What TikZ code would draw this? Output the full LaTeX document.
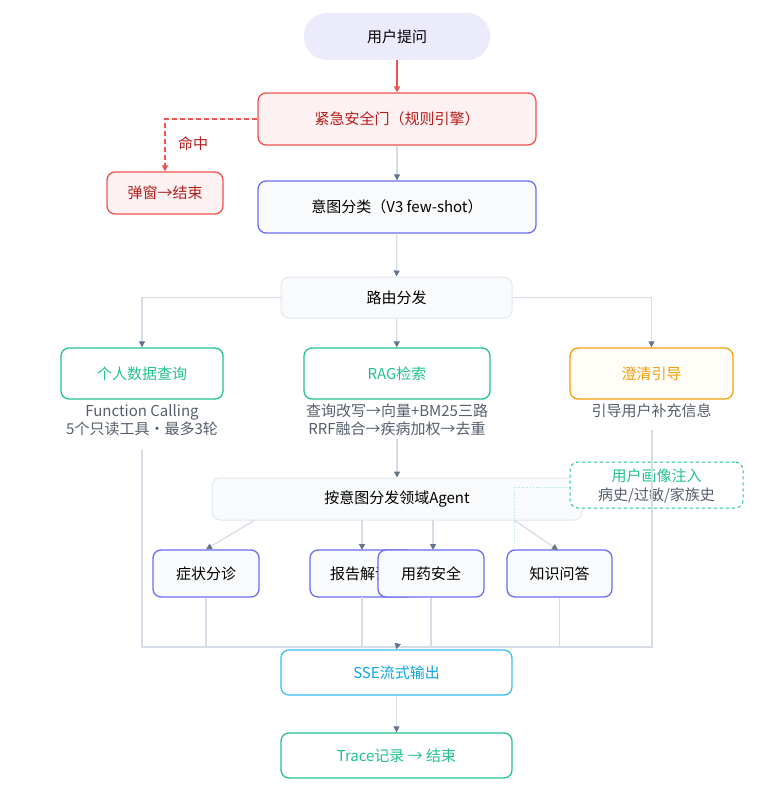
\documentclass[tikz,border=0pt]{standalone}
\usepackage{fontspec}
\setmainfont{Noto Sans CJK SC}
\usetikzlibrary{arrows.meta}
\definecolor{ln}{HTML}{D5DCE6}
\definecolor{tip}{HTML}{64748B}
\definecolor{red1}{HTML}{EF5350}
\definecolor{redt}{HTML}{B71C1C}
\definecolor{redf}{HTML}{FEF1F1}
\definecolor{ind}{HTML}{6B6EF0}
\definecolor{grf}{HTML}{F8FAFC}
\definecolor{grb}{HTML}{E2E8F0}
\definecolor{grn}{HTML}{22C38E}
\definecolor{org}{HTML}{F59E0B}
\definecolor{orf}{HTML}{FFFDF7}
\definecolor{sky}{HTML}{38BDF8}
\definecolor{skyt}{HTML}{0EA5E9}
\definecolor{sub}{HTML}{555F6D}
\definecolor{lav}{HTML}{ECEBFB}
\begin{document}
\begin{tikzpicture}[x=1pt,y=-1pt,font=\fontsize{15}{17}\selectfont,
 box/.style={draw,rounded corners=8pt,line width=1.3pt,align=center,inner sep=0pt},
 con/.style={draw=ln,line width=1.2pt},
 arr/.style={con,-{Triangle[length=6pt,width=6pt,color=tip]}},
 sub/.style={text=sub,align=center,font=\fontsize{15}{18}\selectfont}]
\useasboundingbox[fill=white] (0,0) rectangle (774,789);
\node[fill=lav,rounded corners=23pt,minimum width=186pt,minimum height=47pt] (q) at (397,36.5) {用户提问};
\node[box,draw=red1,fill=redf,text=redt,minimum width=278pt,minimum height=52pt] (gate) at (397,119) {紧急安全门（规则引擎）};
\node[box,draw=red1,fill=redf,text=redt,minimum width=116pt,minimum height=42pt] (pop) at (165,193) {弹窗→结束};
\node[box,draw=ind,fill=grf,minimum width=278pt,minimum height=52pt] (cls) at (397,207) {意图分类（V3 few-shot）};
\node[box,draw=grb,line width=1pt,fill=grf,minimum width=231pt,minimum height=41pt] (route) at (396.5,297.5) {路由分发};
\node[box,draw=grn,fill=white,text=grn,minimum width=162pt,minimum height=51pt] (pd) at (142,373.5) {个人数据查询};
\node[box,draw=grn,fill=white,text=grn,minimum width=186pt,minimum height=51pt] (rag) at (397,373.5) {RAG检索};
\node[box,draw=org,fill=orf,text=org,minimum width=163pt,minimum height=51pt] (clar) at (651.5,373.5) {澄清引导};
\node[sub] (pdt) at (142,420) {Function Calling\\5个只读工具·最多3轮};
\node[sub] (ragt) at (397,420) {查询改写→向量+BM25三路\\RRF融合→疾病加权→去重};
\node[sub] (clt) at (651.5,411) {引导用户补充信息};
\coordinate (pdb) at (142,450);
\coordinate (clb) at (652,430);
\node[box,draw=grb,line width=1pt,fill=grf,minimum width=370pt,minimum height=42pt] (disp) at (397,499) {按意图分发领域Agent};
\draw[grn!40,dotted,line width=0.8pt] (570,487) -- (514,487) -- (514,548);
\node[draw=grn,dashed,line width=1pt,rounded corners=8pt,fill=white,minimum width=173pt,minimum height=46pt] (prof) at (656.5,485) {};
\node[text=grn] (proft) at (656.5,476) {用户画像注入};
\node[sub] (profs) at (656.5,495) {病史/过敏/家族史};
\node[box,draw=ind,fill=grf,minimum width=106pt,minimum height=47pt] (a1) at (206,573.5) {症状分诊};
\node[box,draw=ind,fill=grf,minimum width=105pt,minimum height=47pt,text width=95pt,align=left] (a2) at (362.5,573.5) {\hspace*{15pt}报告解读};
\node[box,draw=ind,fill=grf,minimum width=106pt,minimum height=47pt] (a3) at (431,573.5) {用药安全};
\node[box,draw=ind,fill=grf,minimum width=105pt,minimum height=47pt] (a4) at (559.5,573.5) {知识问答};
\node[box,draw=sky,fill=white,text=skyt,minimum width=231pt,minimum height=45pt] (sse) at (396.5,672.5) {SSE流式输出};
\node[box,draw=grn,fill=white,text=grn,minimum width=231pt,minimum height=45pt] (tr) at (396.5,755.5) {Trace记录 → 结束};
% connectors
\draw[red1,line width=1.3pt,-{Triangle[length=6pt,width=6pt]}] (q) -- (gate);
\draw[red1,dash pattern=on 5pt off 3pt,line width=1.3pt,-{Triangle[length=6pt,width=6pt]}] (gate.west) -- (165,119) -- (pop.north);
\node[text=redt] (hit) at (193,144) {命中};
\draw[arr] (gate) -- (cls);
\draw[arr] (cls) -- (route);
\draw[arr] (route.west) -| (pd.north);
\draw[arr] (route.east) -| (clar.north);
\draw[arr] (route) -- (rag);
\draw[arr] (ragt.south) -- (disp.north);
\draw[arr] (255,520) -- (a1.north);
\draw[arr] (362,520) -- (362,550);
\draw[arr] (433,520) -- (433,550);
\draw[arr] (514,520) -- (558,550);
\draw[con] (pdb) |- (397,647);
\draw[con] (clb) |- (397,647);
\foreach \n in {a1,a3,a4} \draw[con] (\n.south) -- (\n.south |- 0,647);
\draw[con] (362,597) -- (362,647);
\draw[arr] (397,647) -- (sse.north);
\draw[arr] (sse) -- (tr);
\end{tikzpicture}
\end{document}
